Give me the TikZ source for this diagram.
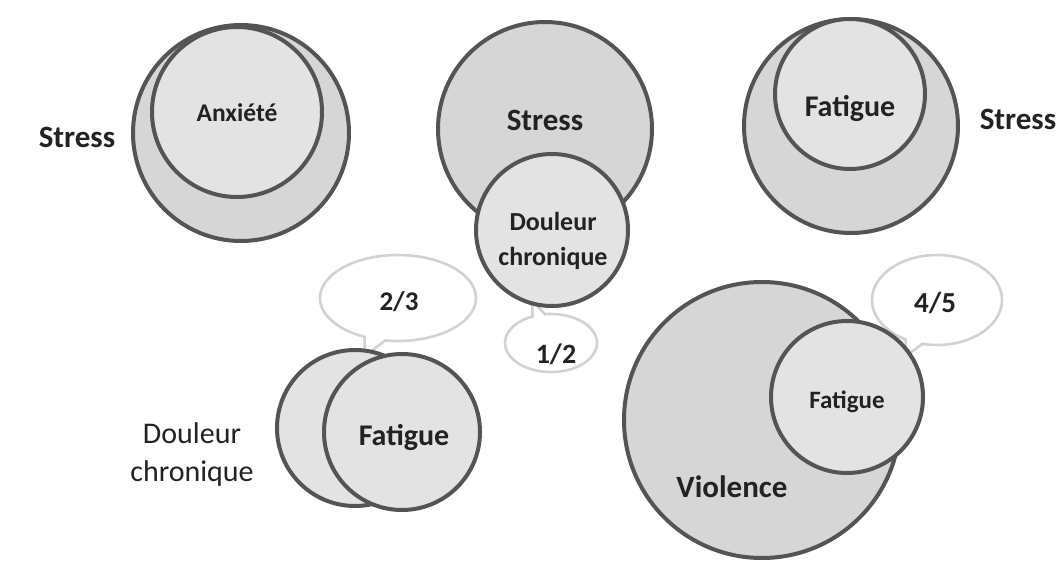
\documentclass[tikz,border=0pt]{standalone}
\usepackage{fontspec}
\setmainfont{Carlito}
\usetikzlibrary{shapes.callouts}

\definecolor{rim}{HTML}{545454}
\definecolor{outerfill}{HTML}{D6D6D6}
\definecolor{innerfill}{HTML}{E3E3E3}
\definecolor{bubblerim}{HTML}{D2D2D2}
\definecolor{ink}{HTML}{222222}

\tikzset{
  setdisk/.style={circle, draw=rim, line width=4pt, inner sep=0pt, minimum size=#1},
  outerset/.style={setdisk=#1, fill=outerfill},
  innerset/.style={setdisk=#1, fill=innerfill},
  bubble/.style={ellipse callout, draw=bubblerim, fill=white, line width=2.6pt,
                 inner sep=0pt, callout pointer arc=16},
  lbl/.style={text=ink, align=center, inner sep=0pt},
  boldlbl/.style 2 args={lbl, font=\bfseries\fontsize{#1}{#2}\selectfont},
  plainlbl/.style 2 args={lbl, font=\fontsize{#1}{#2}\selectfont},
}

\begin{document}
\begin{tikzpicture}[x=1pt, y=-1pt]
  \fill[white] (0,0) rectangle (1061,562);
  \useasboundingbox (0,0) rectangle (1061,562);

  % speech bubbles with the ratios (behind the sets)
  \node[bubble, minimum width=156pt, minimum height=86pt,
        callout absolute pointer={(365,356)}] (b23) at (398,298) {};
  \node[bubble, minimum width=92pt, minimum height=58pt,
        callout absolute pointer={(532,300)}] (b12) at (551,343) {};
  \node[bubble, minimum width=130pt, minimum height=90pt,
        callout absolute pointer={(906,356)}] (b45) at (937,300) {};

  % Stress containing Anxiete
  \node[outerset=216pt] (stressA) at (241,133) {};
  \node[innerset=170pt] (anx) at (237,112) {};
  \node[boldlbl={31}{37}] (tstressA) at (77,137) {Stress};
  \node[boldlbl={25.5}{30}] (tanx) at (237,113) {Anxiété};

  % Stress overlapping chronic pain
  \node[outerset=214pt] (stressB) at (545,129) {};
  \node[innerset=152pt] (pain) at (552,230) {};
  \node[boldlbl={31}{37}] (tstressB) at (545,120) {Stress};
  \node[boldlbl={26}{35}] (tpain) at (553,241) {Douleur\\chronique};

  % Stress containing fatigue
  \node[outerset=214pt] (stressC) at (851,126) {};
  \node[innerset=150pt] (fatC) at (850,94) {};
  \node[boldlbl={30}{36}] (tfatC) at (850,108) {Fatigue};
  \node[boldlbl={31}{37}] (tstressC) at (1018,119) {Stress};

  % chronic pain overlapping fatigue
  \node[innerset=156pt] (painD) at (355,428) {};
  \node[innerset=156pt] (fatD) at (402,432) {};
  \node[boldlbl={30}{36}] (tfatD) at (404,437) {Fatigue};
  \node[plainlbl={30}{38}] (tpainD) at (192,454) {Douleur\\chronique};

  % violence and fatigue
  \node[outerset=276pt] (viol) at (762,420) {};
  \node[innerset=152pt] (fatE) at (847,397) {};
  \node[boldlbl={25}{30}] (tfatE) at (847,402) {Fatigue};
  \node[boldlbl={31}{37}] (tviol) at (732,487) {Violence};

  % ratio labels
  \node[boldlbl={27}{32}] (t23) at (399,302) {2/3};
  \node[boldlbl={28}{33}] (t12) at (556,354) {1/2};
  \node[boldlbl={29}{34}] (t45) at (935,303) {4/5};
\end{tikzpicture}
\end{document}
